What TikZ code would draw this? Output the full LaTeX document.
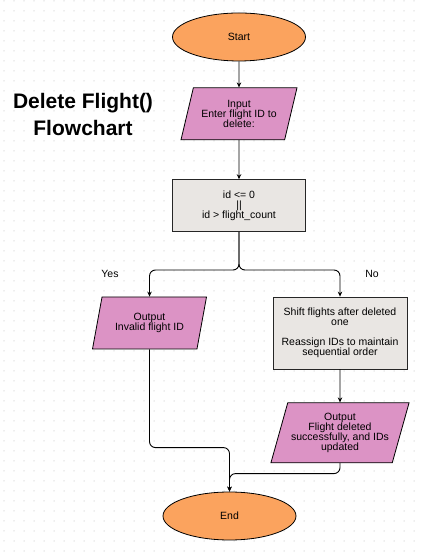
\documentclass[tikz,border=0pt]{standalone}
\usepackage{fontspec}
\setmainfont{Liberation Sans}
\usetikzlibrary{shapes.geometric,arrows.meta,positioning,calc}

\definecolor{termorange}{HTML}{FBA35E}
\definecolor{iopink}{HTML}{DC93C5}
\definecolor{stepgray}{HTML}{E9E6E3}
\definecolor{griddot}{HTML}{DCDCDC}

\tikzset{
  terminal/.style={ellipse, draw=black, line width=0.8pt, fill=termorange, minimum width=133pt, minimum height=48pt},
  iobox/.style={trapezium, trapezium left angle=70, trapezium right angle=110, trapezium stretches body, draw=black, line width=0.8pt, fill=iopink, align=center},
  stepbox/.style={rectangle, draw=black!85, line width=0.8pt, fill=stepgray, align=center},
  flow/.style={->, line width=0.9pt, rounded corners=6pt},
  >={Stealth[length=5pt,width=4.5pt]},
}

\begin{document}
\begin{tikzpicture}[x=1pt, y=1pt, font=\fontsize{10.5}{10}\selectfont]
    \useasboundingbox (0,0) rectangle (422,553);
    % dotted background
    \foreach \i in {0,...,41}
      \foreach \j in {0,...,55}
        \fill[griddot] ({4+10*\i}, {552-10*\j}) circle (0.75pt);

    \node (title) at (83,438) [align=center, font=\fontsize{21}{27}\selectfont\bfseries] {Delete Flight()\\Flowchart};

    \node (start) at (239,516) [terminal] {Start};
    \node (input) [below =26pt of start, iobox, minimum width=116pt, minimum height=52pt] {Input\\Enter flight ID to\\delete:};
    \node (check) [below =39pt of input, stepbox, minimum width=133pt, minimum height=52pt] {id <= 0\\||\\id > flight\_count};
    \node (outinv) at (149.5,230) [iobox, minimum width=114pt, minimum height=52pt] {Output\\Invalid flight ID};
    \node (shift) at (340,220) [stepbox, minimum width=134pt, minimum height=72pt] {Shift flights after deleted\\one\\[10pt]Reassign IDs to maintain\\sequential order};
    \node (outok) [below =33pt of shift, iobox, minimum width=113pt, minimum height=60pt] {Output\\Flight deleted\\successfully, and IDs\\updated};
    \node (finish) at (229.5,37) [terminal] {End};

    \node (yes) at (110,279) {Yes};
    \node (no) at (372,279) {No};

    \coordinate (split) at ($(check.south)+(0,-38pt)$);
    \coordinate (joinL) at ($(finish.north)+(0,44pt)$);
    \coordinate (joinR) at ($(finish.north)+(0,18pt)$);

    \draw [flow] (start) -- (input);
    \draw [flow] (input) -- (check);
    \draw [flow] (check.south) -- (split) -| (outinv.north);
    \draw [flow] (check.south) -- (split) -| (shift.north);
    \draw [flow] (shift) -- (outok);
    \draw [flow] (outinv.south) |- (joinL) -- (finish.north);
    \draw [flow] (outok.south) |- (joinR) -- (finish.north);
\end{tikzpicture}
\end{document}
